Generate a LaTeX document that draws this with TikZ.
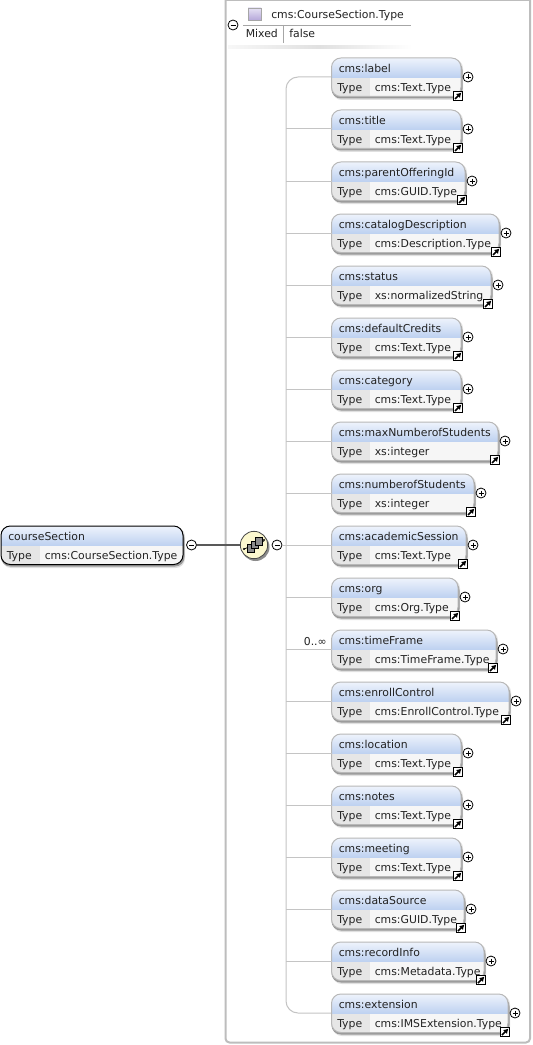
\documentclass[tikz,border=0pt]{standalone}
\usepackage{fontspec}
\setmainfont{DejaVu Sans}
\usetikzlibrary{calc,arrows.meta}
\definecolor{hdrtop}{HTML}{EEF3FC}
\definecolor{hdrbot}{HTML}{BCD0F0}
\definecolor{keycell}{HTML}{E6E6E6}
\definecolor{valcell}{HTML}{F6F6F6}
\definecolor{framegray}{HTML}{BDBDBD}
\definecolor{linegray}{HTML}{C4C4C4}
\definecolor{txt}{HTML}{222222}
\definecolor{icontop}{HTML}{E6E2F4}
\definecolor{iconbot}{HTML}{B6A8DA}
\definecolor{seqfill}{HTML}{FCF8CF}
\tikzset{
  x=0.75pt,y=-0.75pt,
  lbl/.style={inner sep=0pt,anchor=base west,font=\fontsize{8.15pt}{9pt}\selectfont,text=txt},
  conn/.style={draw=linegray,line width=0.75pt},
  tog/.style={circle,draw=black,fill=white,line width=0.6pt,minimum size=7.5pt,inner sep=0pt},
  jumpbox/.style={draw=black,fill=white,line width=0.85pt,minimum size=7pt,inner sep=0pt},
}
\newcommand{\plussign}[1]{\draw[line width=0.45pt] ($(#1)+(-2.5,0)$)--($(#1)+(2.5,0)$) ($(#1)+(0,-2.5)$)--($(#1)+(0,2.5)$);}
\newcommand{\minussign}[1]{\draw[line width=0.45pt] ($(#1)+(-2.5,0)$)--($(#1)+(2.5,0)$);}
% box: name, left, top, right, keyright, header text, value, edge colour, bottom offset for text
\newcommand{\xbox}[9]{%
  \fill[rounded corners=7pt,black!12] (#2+1,#3+1) rectangle (#4+2,#3+42);
  \fill[rounded corners=7pt,black!40] (#2,#3+3) rectangle (#4+1.5,#3+40.5);
  \begin{scope}
    \clip[rounded corners=7pt] (#2,#3) rectangle (#4,#3+38.5);
    \shade[top color=hdrtop,bottom color=hdrbot] (#2,#3) rectangle (#4,#3+20);
    \fill[keycell] (#2,#3+20) rectangle (#5,#3+39);
    \fill[valcell] (#5,#3+20) rectangle (#4,#3+39);
  \end{scope}
  \path[draw=#8,line width=0.75pt,rounded corners=7pt] (#2,#3) rectangle (#4,#3+38.5);
  \coordinate (#1w) at (#2,#3+19);
  \node[lbl] (#1h) at (#2+7,#3+14.5) {#6};
  \node[lbl] (#1k) at (#2+5.5,#3+#9) {Type};
  \node[lbl] (#1v) at (#5+4.5,#3+#9) {#7};
}
\begin{document}
\begin{tikzpicture}
\useasboundingbox (0,0) rectangle (532,1045);
\fill[white] (0,0) rectangle (532,1045);
% outer frame
\draw[framegray,line width=1.5pt,rounded corners=3pt] (225.5,-3) -- (225.5,1042.5) -- (530,1042.5) -- (530,-3);
\draw[framegray,line width=1.2pt] (225.5,0.5) -- (530,0.5);
% type header
\shade[top color=icontop,bottom color=iconbot,draw=black!35,line width=0.4pt] (248,8) rectangle (261,20);
\node[lbl] (typename) at (271,19) {cms:CourseSection.Type};
\draw[black!35,line width=0.6pt] (243,25) -- (411,25);
\node[lbl] (mixedkey) at (245.5,38) {Mixed};
\node[lbl] (mixedval) at (289,38) {false};
\draw[black!35,line width=0.6pt] (283,25) -- (283,43);
\shade[left color=black!3,right color=black!12] (228,46) rectangle (320,49);
\shade[left color=black!12,right color=white] (320,46) rectangle (412,49);
\node[tog] (typetog) at (233,25) {};
\minussign{typetog}
% trunk
\coordinate (trunktop) at (286,77);
\coordinate (trunkbot) at (286,1013);
% root
\xbox{root}{1}{526}{183}{40}{courseSection}{cms:CourseSection.Type}{black}{33.5}
\node[tog] (roottog) at (191.5,545) {};
\minussign{roottog}
\fill[black!45] (255.5,547) circle (14);
\node[circle,draw=black!70,fill=seqfill,minimum size=20.5pt,inner sep=0pt,line width=0.6pt] (seq) at (254,545) {};
\draw[black!65,line width=1.3pt] (roottog.east) -- (seq.west);
\draw[black,line width=0.5pt] (244,549) -- (264,541);
\fill (244,549) circle (1.1) (264,540) circle (1.1);
\draw[black,fill=black!45,line width=0.4pt] (247,544.5) rectangle (254,552);
\draw[black,fill=black!45,line width=0.4pt] (251,541) rectangle (258,548.5);
\draw[black,fill=black!45,line width=0.4pt] (255,537.5) rectangle (262,545);
\node[tog] (seqtog) at (277,545) {};
\minussign{seqtog}
\draw[conn] (seqtog.east) -- (seqtog -| trunktop);
\draw[conn,rounded corners=9pt] (331,77) -- (trunktop) -- (trunkbot) -- (331,1013);
\foreach \i/\r/\t/\v in {
 0/461/label/cms:Text.Type,
 1/461/title/cms:Text.Type,
 2/465/parentOfferingId/cms:GUID.Type,
 3/499/catalogDescription/cms:Description.Type,
 4/491/status/xs:normalizedString,
 5/461/defaultCredits/cms:Text.Type,
 6/461/category/cms:Text.Type,
 7/498/maxNumberofStudents/xs:integer,
 8/474/numberofStudents/xs:integer,
 9/466/academicSession/cms:Text.Type,
 10/458/org/cms:Org.Type,
 11/496/timeFrame/cms:TimeFrame.Type,
 12/509/enrollControl/cms:EnrollControl.Type,
 13/461/location/cms:Text.Type,
 14/461/notes/cms:Text.Type,
 15/461/meeting/cms:Text.Type,
 16/464/dataSource/cms:GUID.Type,
 17/484/recordInfo/cms:Metadata.Type,
 18/508/extension/cms:IMSExtension.Type}{
  \pgfmathsetmacro{\ty}{58+52*\i}
  \xbox{e\i}{331.5}{\ty}{\r}{370}{cms:\t}{\v}{black!28}{33.5}
  \ifnum\i>0 \ifnum\i<18
    \draw[conn] (e\i w) -- (e\i w -| trunktop);
  \fi\fi
  \node[tog] (p\i) at (\r+7,\ty+19) {};
  \plussign{p\i}
  \node[jumpbox] (j\i) at (\r-3,\ty+38) {};
  \draw[black,line width=1.3pt,-{Latex[length=3.6pt,width=4.4pt]}] ($(j\i)+(-3,3)$) -- ($(j\i)+(3.4,-3.4)$);
}
\node[lbl,anchor=base east] (occ) at (327,645) {0..∞};
\end{tikzpicture}
\end{document}
